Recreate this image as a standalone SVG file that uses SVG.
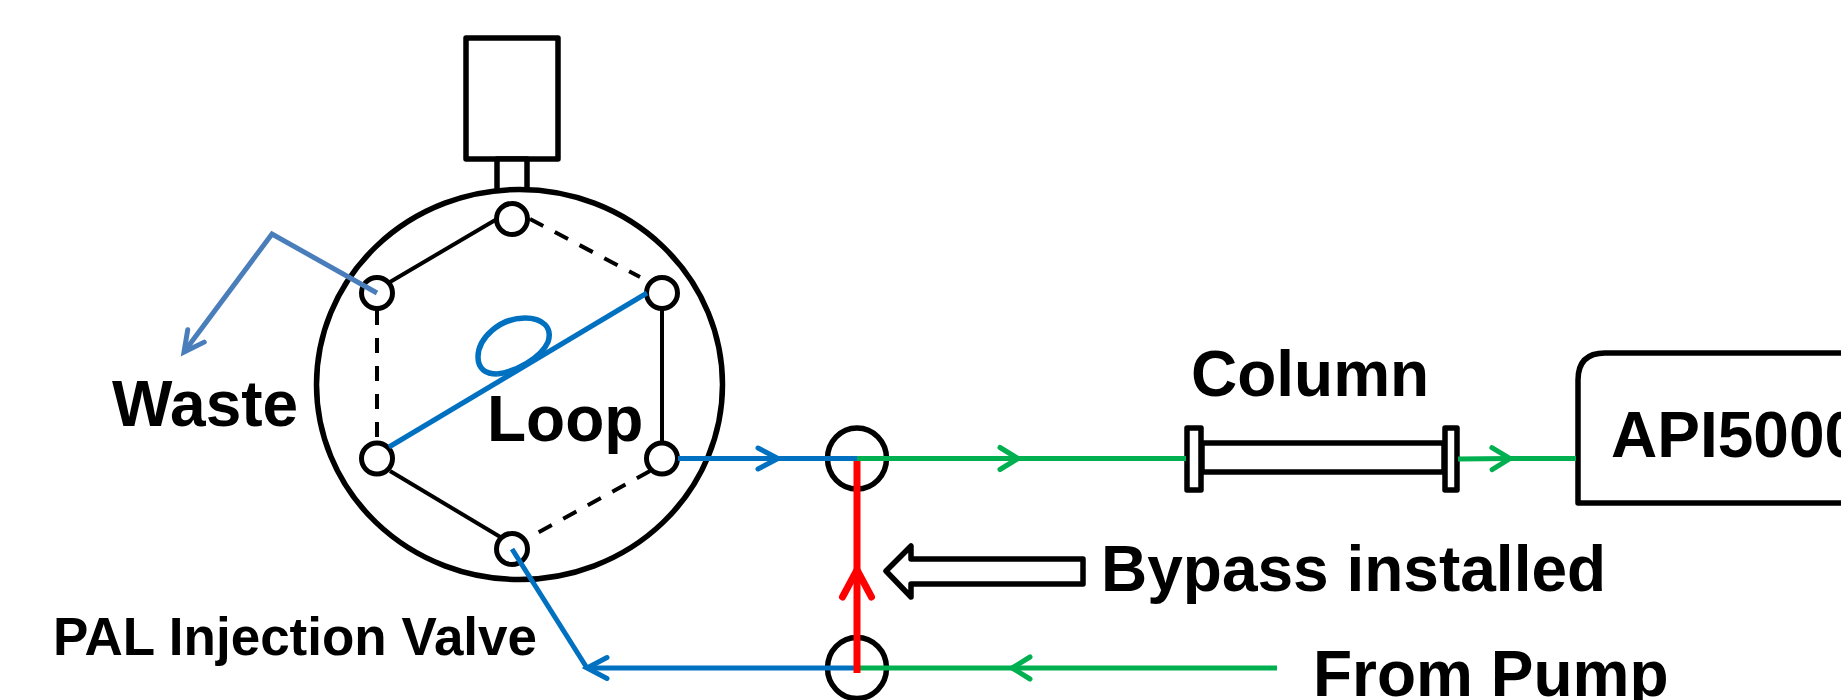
<svg xmlns="http://www.w3.org/2000/svg" width="1841" height="700" viewBox="0 0 1841 700">
<style>
.o{fill:#fff;stroke:#000;stroke-width:5.5;stroke-linejoin:round}
.port{fill:#fff;stroke:#000;stroke-width:5}
.thin{fill:none;stroke:#000;stroke-width:4}
.dash{stroke-dasharray:15 13}
.blue{fill:none;stroke:#0070C0;stroke-width:5}
.waste{fill:none;stroke:#4A7EBB;stroke-width:5}
.green{fill:none;stroke:#00B050;stroke-width:5}
.red{fill:none;stroke:#F00;stroke-width:7}
text{font-family:"Liberation Sans",Arial,sans-serif;font-weight:700;font-size:64px;fill:#000}
</style>
<defs>
<marker id="ab" markerUnits="userSpaceOnUse" markerWidth="40" markerHeight="40" refX="30" refY="20" orient="auto" overflow="visible"><path d="M10,9.5 L30,20 L10,30.5" fill="none" stroke="#0070C0" stroke-width="5" stroke-linecap="round"/></marker>
<marker id="aw" markerUnits="userSpaceOnUse" markerWidth="40" markerHeight="40" refX="30" refY="20" orient="auto" overflow="visible"><path d="M10,9.7 L30,20 L10,30.3" fill="none" stroke="#4A7EBB" stroke-width="5" stroke-linecap="round"/></marker>
<marker id="ag" markerUnits="userSpaceOnUse" markerWidth="40" markerHeight="40" refX="30" refY="20" orient="auto" overflow="visible"><path d="M12,9 L30,20 L12,31" fill="none" stroke="#00B050" stroke-width="5" stroke-linecap="round"/></marker>
<marker id="ar" markerUnits="userSpaceOnUse" markerWidth="40" markerHeight="40" refX="30" refY="20" orient="auto" overflow="visible"><path d="M3,5.5 L30,20 L3,34.5" fill="none" stroke="#F00" stroke-width="7" stroke-linecap="round"/></marker>
</defs>
<rect width="1841" height="700" fill="#fff"/>
<g id="actuator"><rect class="o" x="466" y="38" width="92" height="121"/></g>
<g id="stem"><rect class="o" x="497" y="159" width="30" height="34"/></g>
<g id="valve-body"><ellipse class="o" cx="519.5" cy="384.5" rx="203" ry="195"/></g>
<g id="port-top"><ellipse class="port" cx="512" cy="219" rx="15.5" ry="15.5"/></g>
<g id="port-upper-left"><ellipse class="port" cx="377" cy="293" rx="15.5" ry="15.5"/></g>
<g id="port-upper-right"><ellipse class="port" cx="662" cy="293" rx="15.5" ry="15.5"/></g>
<g id="port-lower-left"><ellipse class="port" cx="377" cy="458.5" rx="15.5" ry="15.5"/></g>
<g id="port-lower-right"><ellipse class="port" cx="662" cy="458.5" rx="15.5" ry="15.5"/></g>
<g id="port-bottom"><ellipse class="port" cx="512" cy="549" rx="15.5" ry="15.5"/></g>
<g id="tee-upper"><ellipse class="o" cx="857" cy="458.5" rx="29.5" ry="30.5"/></g>
<g id="tee-lower"><ellipse class="o" cx="857" cy="668" rx="29.5" ry="30.5"/></g>
<g id="column">
<rect class="o" x="1202" y="443" width="242" height="29"/>
<rect class="o" x="1187" y="428" width="14" height="62"/>
<rect class="o" x="1445" y="428" width="12" height="62"/>
</g>
<g id="api5000">
<path class="o" d="M1578,503 L1578,380 Q1578,353 1605,353 L1980,353 L1980,503 Z"/>
<text x="1611" y="457">API5000</text>
</g>
<g id="bypass-callout">
<path class="o" d="M886,571 L911,546 L911,559 L1083,559 L1083,584 L911,584 L911,597 Z"/>
</g>
<g id="connectors">
<path class="thin" d="M390,282 L497,219"/>
<path class="thin dash" d="M530,219 L640,277"/>
<path class="thin" d="M662,309 L662,442"/>
<path class="thin dash" d="M650,471 L528,538"/>
<path class="thin" d="M390,471 L502,538"/>
<path class="thin dash" d="M377,310 L377,437"/>
<path class="waste" d="M377,293 L272,234 L184,352" marker-end="url(#aw)"/>
<path class="blue" d="M389,447 L647,293"/>
<path class="blue" style="stroke-width:5.5" d="M497,374 C515,372 541,358 548,342 C553,327 542,318 525,318 C500,318 478,338 478,357 C478,369 486,374 497,374"/>
<path class="blue" d="M678,458.5 L778,458.5" marker-end="url(#ab)"/>
<path class="blue" d="M778,458.5 L857,458.5"/>
<path class="blue" d="M512,549 L587,668"/>
<path class="blue" d="M857,668 L587,668" marker-end="url(#ab)"/>
<path class="green" d="M857,458.5 L1018,458.5" marker-end="url(#ag)"/>
<path class="green" d="M1018,458.5 L1186,458.5"/>
<path class="green" d="M1458,459 L1510,458.5" marker-end="url(#ag)"/>
<path class="green" d="M1510,458.5 L1576,458.5"/>
<path class="green" d="M1277,668 L1012,668" marker-end="url(#ag)"/>
<path class="green" d="M1012,668 L857,668"/>
<path class="red" d="M857,673 L857,570" marker-end="url(#ar)"/>
<path class="red" d="M857,570 L857,461"/>
</g>
<g id="labels">
<text x="112" y="426">Waste</text>
<text x="487" y="441">Loop</text>
<text x="53" y="655" style="font-size:53px">PAL Injection Valve</text>
<text x="1191" y="396">Column</text>
<text x="1101" y="591">Bypass installed</text>
<text x="1313" y="696">From Pump</text>
</g>
</svg>
